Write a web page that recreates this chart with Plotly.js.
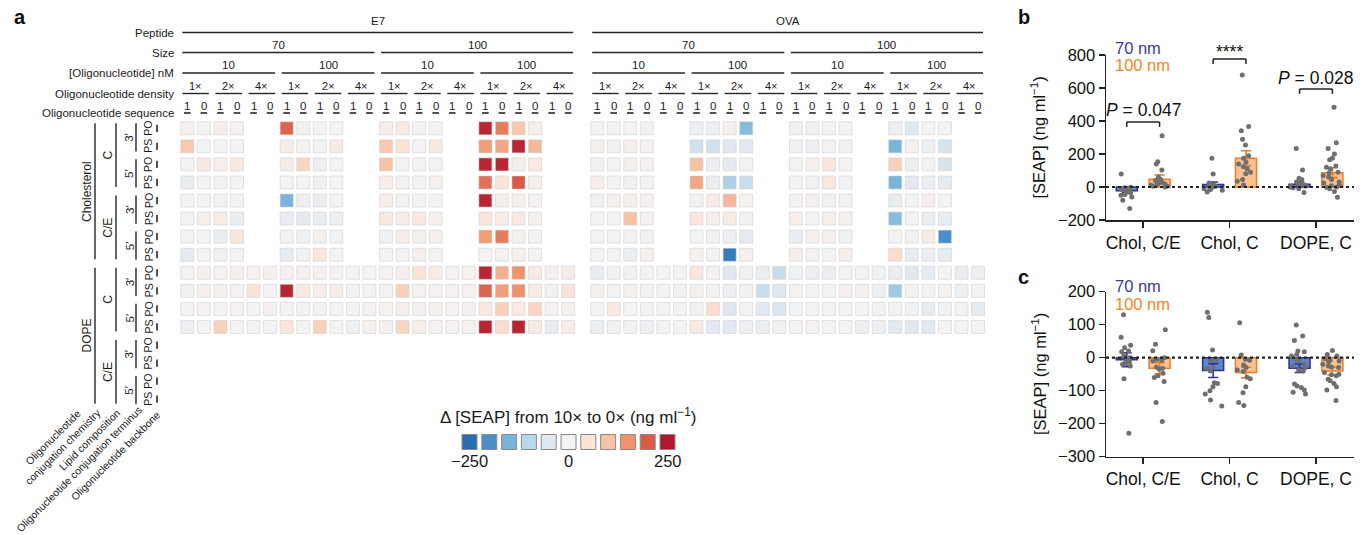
<!DOCTYPE html>
<html><head><meta charset="utf-8">
<script src="https://cdn.plot.ly/plotly-3.0.1.min.js"></script>
<style>html,body{margin:0;padding:0;background:#fff}#chart{width:1368px;height:535px}</style>
</head><body><div id="chart"></div>
<script>
// ---------------- Panel a : factor levels ----------------
const peptides = ['E7', 'OVA'];
const sizes = ['70', '100'];
const concs = ['10', '100'];
const densities = ['1×', '2×', '4×'];
const seqs = ['1', '0'];
const lipids = ['Cholesterol', 'DOPE'];
const chems = ['C', 'C/E'];
const termini = ['3′', '5′'];
const backbones = ['PO', 'PS'];
const n = null;
// Δ[SEAP] (ng/ml); rows = lipid/chem/terminus/backbone, 24 columns = size/conc/density/sequence
const e7Rows = [
  [10,0,15,5,n,n, 190,10,0,0,n,n, 20,30,5,0,n,n, 240,170,90,15,n,n],
  [90,0,0,0,n,n, 20,5,0,25,n,n, 90,50,0,30,n,n, 140,130,240,110,n,n],
  [0,30,15,30,n,n, 25,70,-15,0,n,n, 100,0,0,-5,n,n, 240,240,15,30,n,n],
  [-25,0,-5,0,n,n, 0,0,-10,0,n,n, 20,5,0,10,n,n, 180,45,200,15,n,n],
  [0,0,-5,0,n,n, -150,-15,-20,0,n,n, 20,5,0,0,n,n, 240,15,10,5,n,n],
  [-5,15,25,-20,n,n, -25,-35,-25,-15,n,n, 35,25,35,10,n,n, 45,20,30,10,n,n],
  [-5,0,-20,40,n,n, 0,-10,10,-5,n,n, -10,20,15,10,n,n, 140,170,10,0,n,n],
  [-35,0,-10,0,n,n, -35,-5,40,0,n,n, 0,0,10,0,n,n, 0,5,10,0,n,n],
  [5,10,5,10,5,10, 10,5,10,5,0,0, 5,10,50,25,5,5, 240,120,150,30,10,25],
  [-10,10,10,5,50,0, 240,30,15,20,0,0, 5,80,5,5,5,5, 190,140,150,25,-10,50],
  [0,5,0,5,0,10, 0,0,5,0,0,5, 5,15,10,10,5,10, 35,80,30,70,5,10],
  [-15,0,80,0,5,0, 40,0,80,0,-15,10, 10,70,20,5,5,5, 240,60,240,25,-30,20]
];
const ovaRows = [
  [0,-5,0,-10,n,n, -15,-15,10,-140,n,n, -10,-10,0,0,n,n, -15,-50,0,0,n,n],
  [10,-10,15,5,n,n, -70,-70,-45,-40,n,n, -10,-15,-5,-10,n,n, -150,5,-15,-60,n,n],
  [-10,0,15,5,n,n, 100,-15,-35,0,n,n, 0,10,40,0,n,n, 80,-15,0,-60,n,n],
  [15,0,-10,-5,n,n, 130,-20,-110,-80,n,n, 0,-10,40,-5,n,n, -150,-40,-20,-30,n,n],
  [-10,10,10,10,n,n, -10,25,110,5,n,n, 0,10,-10,5,n,n, -30,0,15,0,n,n],
  [0,0,100,5,n,n, 40,15,25,-10,n,n, 15,0,15,10,n,n, -140,0,-20,-30,n,n],
  [-5,-5,-10,-10,n,n, 0,-10,-15,-35,n,n, -25,10,15,-10,n,n, 0,-5,25,-200,n,n],
  [0,0,-20,10,n,n, 10,-5,-230,10,n,n, 15,5,0,15,n,n, 60,-30,-20,-30,n,n],
  [-25,-10,-10,0,0,0, 40,5,-45,-10,-20,-80, -10,-15,-20,0,5,-10, -20,-45,-35,0,-20,-15],
  [10,-5,10,-5,0,-10, 10,0,-15,-10,-80,-50, 5,0,0,10,10,-15, -120,5,0,5,-15,0],
  [0,30,0,-5,-5,-5, -10,60,-50,0,-40,-55, -5,-5,5,-5,0,-5, -5,-10,-30,-10,0,-30],
  [-20,-10,-5,-15,0,0, 30,-40,-40,-15,-20,-10, 5,5,0,0,-15,-15, -40,-45,-45,0,0,5]
];
const legendVals = [-250,-200,-150,-100,-50,0,50,100,150,200,250];
const legendTickVals = [-250, 0, 250];
const legendTickText = ['−250', '0', '250'];

// ---------------- Panels b, c ----------------
const groups = ['Chol, C/E', 'Chol, C', 'DOPE, C'];
const bMean70 = [-22, 15, 16],  bSem70 = [12, 15, 14];
const bMean100 = [47, 174, 87], bSem100 = [26, 46, 30];
const bPts70 = [[79,-2,-5,-10,-15,-20,-25,-30,-35,-45,-50,-60,-80,-130],
                [174,79,25,15,10,5,0,-5,-10,-15,-20,-30],
                [234,103,53,45,30,20,15,10,5,5,0,-5,-10,-34]];
const bPts100 = [[311,153,139,103,60,45,40,35,30,25,20,15,10,5,5,0],
                 [679,366,341,289,255,190,175,150,140,123,110,90,80,45,35,12],
                 [483,268,234,200,175,165,127,120,110,90,85,70,60,45,30,25,12,8,0,-3,-10,-28,-62]];
const cMean70 = [-6, -39, -32],  cSem70 = [21, 21, 13];
const cMean100 = [-32, -45, -40], cSem100 = [17, 16, 12];
const cPts70 = [[130,62,38,30,20,18,5,0,-5,-12,-15,-20,-25,-64,-229],
                [138,122,23,-5,-8,-30,-33,-40,-76,-78,-88,-100,-110,-128,-146],
                [99,66,52,20,18,10,5,-5,-10,-20,-25,-30,-37,-40,-80,-86,-90,-98,-105,-110]];
const cPts100 = [[85,41,21,0,-5,-8,-10,-29,-32,-35,-47,-55,-60,-72,-136,-193],
                 [106,8,-5,-8,-22,-30,-37,-42,-59,-64,-88,-106,-136,-145],
                 [22,10,5,-3,-8,-10,-12,-20,-25,-28,-30,-45,-50,-52,-55,-65,-70,-78,-88,-98,-130]];
const bSig = ['<i>P</i> = 0.047', '****', '<i>P</i> = 0.028'];

// ---------------- layout helpers ----------------
const W = 1368, H = 535;
const FONT = 'Liberation Sans, Arial, Helvetica, sans-serif';
const P = 16.56, X0 = 187.3, RY0 = 128.3, RP = 18.06;
const cx = px => (px - X0) / P;
const ry = py => (py - RY0) / RP;
const PEP_OFF = 24.75;
const colIndex = (p, s, c, d, q) => p * PEP_OFF + s * 12 + c * 6 + d * 2 + q;
const rowIndex = (l, c, t, b) => l * 8 + c * 4 + t * 2 + b;
const INK = '#262626';

const colorscale = [[0,'#2c6db2'],[0.1,'#4a8fc7'],[0.2,'#7ab4da'],[0.3,'#b9d8ea'],[0.4,'#dfe7ef'],
  [0.5,'#f3f3f3'],[0.6,'#fbe3d8'],[0.7,'#f7c3a6'],[0.8,'#ef936c'],[0.9,'#d95a48'],[1,'#b1182e']];

const shapes = [], ann = [];
function seg(x0, y0, x1, y1, w, extra) {
  shapes.push(Object.assign({type:'line', xref:'x', yref:'y', x0, y0, x1, y1, line:{color:INK, width:w || 1.4}}, extra || {}));
}
function txt(x, y, text, size, opt) {
  ann.push(Object.assign({xref:'x', yref:'y', x, y, text, showarrow:false, font:{family:FONT, size:size||11, color:'#1a1a1a'}, xanchor:'center', yanchor:'middle'}, opt || {}));
}

// cells
const cellX = [], cellY = [], cellV = [];
[e7Rows, ovaRows].forEach((rows, p) => rows.forEach((row, r) => row.forEach((v, k) => {
  if (v === null) return;
  cellX.push(p * PEP_OFF + k); cellY.push(r); cellV.push(v);
})));

// column headers
const Y = {pep: ry(32.5), pepT: ry(21), size: ry(52.5), sizeT: ry(44.5), conc: ry(73), concT: ry(65),
  den: ry(93.5), denT: ry(86), seq: ry(113), seqT: ry(105.5)};
peptides.forEach((pn, p) => {
  const a = colIndex(p,0,0,0,0), b = colIndex(p,1,1,2,1);
  seg(a - 0.3, Y.pep, b + 0.3, Y.pep); txt((a + b) / 2, Y.pepT, pn, 11.5);
  sizes.forEach((sn, s) => {
    const a = colIndex(p,s,0,0,0), b = colIndex(p,s,1,2,1);
    seg(a - 0.3, Y.size, b + 0.3, Y.size); txt((a + b) / 2, Y.sizeT, sn, 11.5);
    concs.forEach((cn, c) => {
      const a = colIndex(p,s,c,0,0), b = colIndex(p,s,c,2,1);
      seg(a - 0.3, Y.conc, b + 0.3, Y.conc); txt((a + b) / 2, Y.concT, cn, 11.5);
      densities.forEach((dn, d) => {
        const a = colIndex(p,s,c,d,0), b = colIndex(p,s,c,d,1);
        seg(a - 0.3, Y.den, b + 0.3, Y.den); txt((a + b) / 2, Y.denT, dn, 11);
        seqs.forEach((qn, q) => {
          const k = colIndex(p,s,c,d,q);
          seg(k - 0.2, Y.seq, k + 0.2, Y.seq, 1.6); txt(k, Y.seqT, qn, 11.5);
        });
      });
    });
  });
});
[['Peptide',32.5],['Size',52.5],['[Oligonucleotide] nM',73],['Oligonucleotide density',93.5],['Oligonucleotide sequence',113]]
  .forEach(([t, py]) => txt(cx(176), ry(py), t, 11.5, {xanchor:'right'}));

// row headers
const XL = {lipLine: cx(95), lipT: cx(86.5), chemLine: cx(116), chemT: cx(108), termLine: cx(136), termT: cx(129.5), bbLine: cx(157), bbT: cx(148.5)};
lipids.forEach((ln, l) => {
  const a = rowIndex(l,0,0,0), b = rowIndex(l,1,1,1);
  seg(XL.lipLine, a - 0.28, XL.lipLine, b + 0.25); txt(XL.lipT, (a + b) / 2, ln, 12, {textangle:-90});
  chems.forEach((cn, c) => {
    const a = rowIndex(l,c,0,0), b = rowIndex(l,c,1,1);
    seg(XL.chemLine, a - 0.28, XL.chemLine, b + 0.25); txt(XL.chemT, (a + b) / 2, cn, 12, {textangle:-90});
    termini.forEach((tn, t) => {
      const a = rowIndex(l,c,t,0), b = rowIndex(l,c,t,1);
      seg(XL.termLine, a - 0.28, XL.termLine, b + 0.28); txt(XL.termT, (a + b) / 2, tn, 11.5, {textangle:-90});
      backbones.forEach((bn, bb) => {
        const r = rowIndex(l,c,t,bb);
        seg(XL.bbLine, r - 0.2, XL.bbLine, r + 0.2, 1.6); txt(XL.bbT, r, bn, 10.5, {textangle:-90});
      });
    });
  });
});
// diagonal axis names (centre positions in px)
[['Oligonucleotide<br>conjugation chemistry', 58, 442],
 ['Lipid composition', 89, 440],
 ['Oligonucleotide conjugation terminus', 79, 469],
 ['Oligonucleotide backbone', 115, 456]]
  .forEach(([t, px, py]) => txt(cx(px), ry(py), t, 10.5, {textangle:-45, align:'center'}));

// colour legend
const legX = legendVals.map((v, i) => cx(469.5 + 19.8 * i));
const legY = legendVals.map(() => ry(442));
txt(cx(568), ry(416), 'Δ [SEAP] from 10× to 0× (ng ml<sup>−1</sup>)', 17);
legendTickVals.forEach((v, i) => txt(legX[legendVals.indexOf(v)], ry(461), legendTickText[i], 16.5));

// panel letters
ann.push({xref:'paper', yref:'paper', x:12/W, y:1 - 17/H, text:'<b>a</b>', showarrow:false, xanchor:'left', yanchor:'middle', font:{family:FONT, size:20, color:'#111'}});
ann.push({xref:'paper', yref:'paper', x:1016/W, y:1 - 17/H, text:'<b>b</b>', showarrow:false, xanchor:'left', yanchor:'middle', font:{family:FONT, size:20, color:'#111'}});
ann.push({xref:'paper', yref:'paper', x:1016/W, y:1 - 277/H, text:'<b>c</b>', showarrow:false, xanchor:'left', yanchor:'middle', font:{family:FONT, size:20, color:'#111'}});

// ---------------- traces ----------------
const traces = [];
traces.push({type:'scatter', mode:'markers', x:cellX, y:cellY, xaxis:'x', yaxis:'y', hoverinfo:'skip',
  marker:{symbol:'square', size:13, color:cellV, cmin:-250, cmax:250, colorscale, showscale:false,
    line:{width:1, color:'rgba(205,205,205,0.55)'}}});
traces.push({type:'scatter', mode:'markers', x:legX, y:legY, xaxis:'x', yaxis:'y', hoverinfo:'skip',
  marker:{symbol:'square', size:15, color:legendVals, cmin:-250, cmax:250, colorscale, showscale:false,
    line:{width:1, color:'#8a8a8a'}}});

const C70 = '#2e3192', C100 = '#f47b20';
function panel(xa, ya, tag, m70, s70, m100, s100, p70, p100) {
  const flatX = pts => pts.flatMap((arr, i) => arr.map(() => groups[i]));
  const flatY = pts => pts.flat();
  traces.push({type:'bar', x:groups, y:m70, xaxis:xa, yaxis:ya, hoverinfo:'skip', offsetgroup:'g70', alignmentgroup:tag,
    marker:{color:'#5b87c9', line:{color:C70, width:1.5}},
    error_y:{type:'data', array:s70, color:C70, thickness:1.6, width:5}});
  traces.push({type:'bar', x:groups, y:m100, xaxis:xa, yaxis:ya, hoverinfo:'skip', offsetgroup:'g100', alignmentgroup:tag,
    marker:{color:'#fbc18e', line:{color:C100, width:1.5}},
    error_y:{type:'data', array:s100, color:C100, thickness:1.6, width:5}});
  [[p70, 'g70'], [p100, 'g100']].forEach(([pts, g]) => traces.push({type:'box', x:flatX(pts), y:flatY(pts), xaxis:xa, yaxis:ya,
    offsetgroup:g, alignmentgroup:tag,
    boxpoints:'all', jitter:1, pointpos:0, fillcolor:'rgba(0,0,0,0)', hoverinfo:'skip',
    line:{width:0, color:'rgba(0,0,0,0)'}, whiskerwidth:0,
    marker:{color:'#6f6f6f', size:5}}));
}
panel('x2', 'y2', 'b', bMean70, bSem70, bMean100, bSem100, bPts70, bPts100);
panel('x3', 'y3', 'c', cMean70, cSem70, cMean100, cSem100, cPts70, cPts100);

// dotted zero lines
['2','3'].forEach(k => shapes.push({type:'line', xref:'x' + k + ' domain', yref:'y' + k, x0:0, x1:1, y0:0, y1:0,
  line:{color:'#222', width:2.2, dash:'dot'}}));
// significance brackets (panel b)
const brTop = [394, 776, 594], brBot = [364, 745, 564], sigY = [467, 776, 660];
const sigShift = [0, -5, 0];
bSig.forEach((s, i) => {
  const L = i - 0.19, R = i + 0.19;
  const sh = (x0, y0, x1, y1) => shapes.push({type:'line', xref:'x2', yref:'y2', x0, y0, x1, y1, line:{color:'#222', width:1.5}});
  sh(L, brTop[i], R, brTop[i]); sh(L, brTop[i], L, brBot[i]); sh(R, brTop[i], R, brBot[i]);
  ann.push({xref:'x2', yref:'y2', x:i, y:sigY[i], yshift:sigShift[i], text:s, showarrow:false, xanchor:'center',
    yanchor: i === 1 ? 'bottom' : 'middle', font:{family:FONT, size:17.5, color:'#111'}});
});
// size labels + axis titles
[[48.5, 65, 137.5], [286, 303.5, 374]].forEach(([y70, y100, yt]) => {
  ann.push({xref:'paper', yref:'paper', x:1113/W, y:1 - y70/H, text:'70 nm', showarrow:false, xanchor:'left', yanchor:'middle', font:{family:FONT, size:16.5, color:'#3b3b9c'}});
  ann.push({xref:'paper', yref:'paper', x:1113/W, y:1 - y100/H, text:'100 nm', showarrow:false, xanchor:'left', yanchor:'middle', font:{family:FONT, size:16.5, color:'#f7861f'}});
  ann.push({xref:'paper', yref:'paper', x:1039/W, y:1 - yt/H, text:'[SEAP] (ng ml<sup>−1</sup>)', showarrow:false, xanchor:'center', yanchor:'middle', textangle:-90, font:{family:FONT, size:16.5, color:'#111'}});
});

const axBase = {showline:true, linecolor:'#222', linewidth:1.5, ticks:'outside', ticklen:6, tickwidth:1.5, tickcolor:'#222',
  showgrid:false, zeroline:false, fixedrange:true};
const layout = {
  width:W, height:H, margin:{l:0, r:0, t:0, b:0}, paper_bgcolor:'#fff', plot_bgcolor:'rgba(0,0,0,0)',
  showlegend:false, font:{family:FONT, color:'#111'},
  barmode:'group', bargap:0.24, bargroupgap:0.36, boxmode:'group', boxgap:0.24, boxgroupgap:0.36,
  xaxis:{domain:[0, 1040 / W], range:[cx(0), cx(1040)], visible:false, fixedrange:true, anchor:'y'},
  yaxis:{domain:[0, 1], range:[ry(H), ry(0)], visible:false, fixedrange:true, anchor:'x'},
  xaxis2:Object.assign({}, axBase, {domain:[1106 / W, 1354 / W], anchor:'y2', type:'category', range:[-0.43, 2.44], tickfont:{family:FONT, size:17.5, color:'#111'}}),
  yaxis2:Object.assign({}, axBase, {domain:[1 - 220 / H, 1 - 55 / H], anchor:'x2', range:[-200, 800], tickvals:[-200,0,200,400,600,800], tickfont:{family:FONT, size:16.5, color:'#111'}}),
  xaxis3:Object.assign({}, axBase, {domain:[1106 / W, 1354 / W], anchor:'y3', type:'category', range:[-0.43, 2.44], tickfont:{family:FONT, size:17.5, color:'#111'}}),
  yaxis3:Object.assign({}, axBase, {domain:[1 - 456.7 / H, 1 - 291.7 / H], anchor:'x3', range:[-300, 200], tickvals:[-300,-200,-100,0,100,200], tickfont:{family:FONT, size:16.5, color:'#111'}}),
  shapes, annotations:ann
};
Plotly.newPlot('chart', traces, layout, {displayModeBar:false, staticPlot:true});
</script></body></html>
